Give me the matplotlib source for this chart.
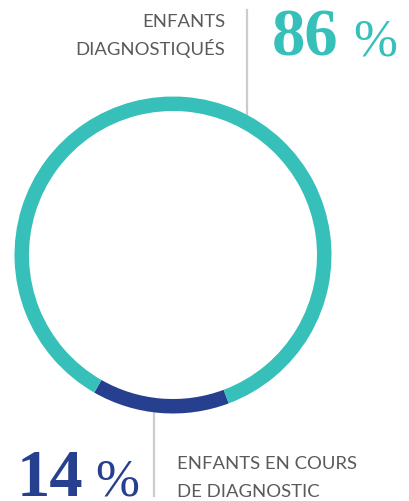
import matplotlib
matplotlib.use("Agg")
import matplotlib.pyplot as plt

# data
labels = ["Enfants en cours de diagnostic", "Enfants diagnostiqués"]
values = [14, 86]
colors = ["#263f8f", "#37c0b9"]
top_label = ["ENFANTS", "DIAGNOSTIQUÉS"]
bottom_label = ["ENFANTS EN COURS", "DE DIAGNOSTIC"]
top_value = "86"
bottom_value = "14"

W, H = 409, 502
fig = plt.figure(figsize=(W / 100, H / 100), dpi=100)
ax = fig.add_axes([0, 0, 1, 1])

cx, cy = 173, H - 256
R = 158.5
ring = 14.5

ax.pie(values, colors=colors, startangle=-119.8, counterclock=True,
       radius=R, center=(cx, cy),
       wedgeprops=dict(width=ring, linewidth=0))
ax.set_xlim(0, W)
ax.set_ylim(0, H)
ax.set_aspect("equal", adjustable="datalim")
ax.axis("off")

# connector lines
line_c = "#cccccc"
ax.plot([247, 247], [H - 11, H - 118], color=line_c, lw=1.6, zorder=0)
ax.plot([154, 154], [H - 410, H - 497], color=line_c, lw=1.6, zorder=0)

sans = ["Lato", "DejaVu Sans"]
gray = "#5a5a5a"
fs_lab = 13.3

ax.text(225, H - 27, top_label[0], ha="right", va="baseline", fontsize=fs_lab,
        color=gray, family=sans)
ax.text(225, H - 55, top_label[1], ha="right", va="baseline", fontsize=fs_lab,
        color=gray, family=sans)
ax.text(177, H - 469, bottom_label[0], ha="left", va="baseline", fontsize=fs_lab,
        color=gray, family=sans)
ax.text(177, H - 497, bottom_label[1], ha="left", va="baseline", fontsize=fs_lab,
        color=gray, family=sans)

serif = ["Liberation Serif", "DejaVu Serif"]
ax.text(272, H - 55, top_value, ha="left", va="baseline", fontsize=48,
        fontweight="bold", color=colors[1], family=serif)
ax.text(353, H - 55, "%", ha="left", va="baseline", fontsize=38,
        color=colors[1], family=serif)
ax.text(17, H - 496, bottom_value, ha="left", va="baseline", fontsize=48,
        fontweight="bold", color=colors[0], family=serif)
ax.text(95, H - 496, "%", ha="left", va="baseline", fontsize=38,
        color=colors[0], family=serif)

fig.savefig("out.png", dpi=100, facecolor="white")
